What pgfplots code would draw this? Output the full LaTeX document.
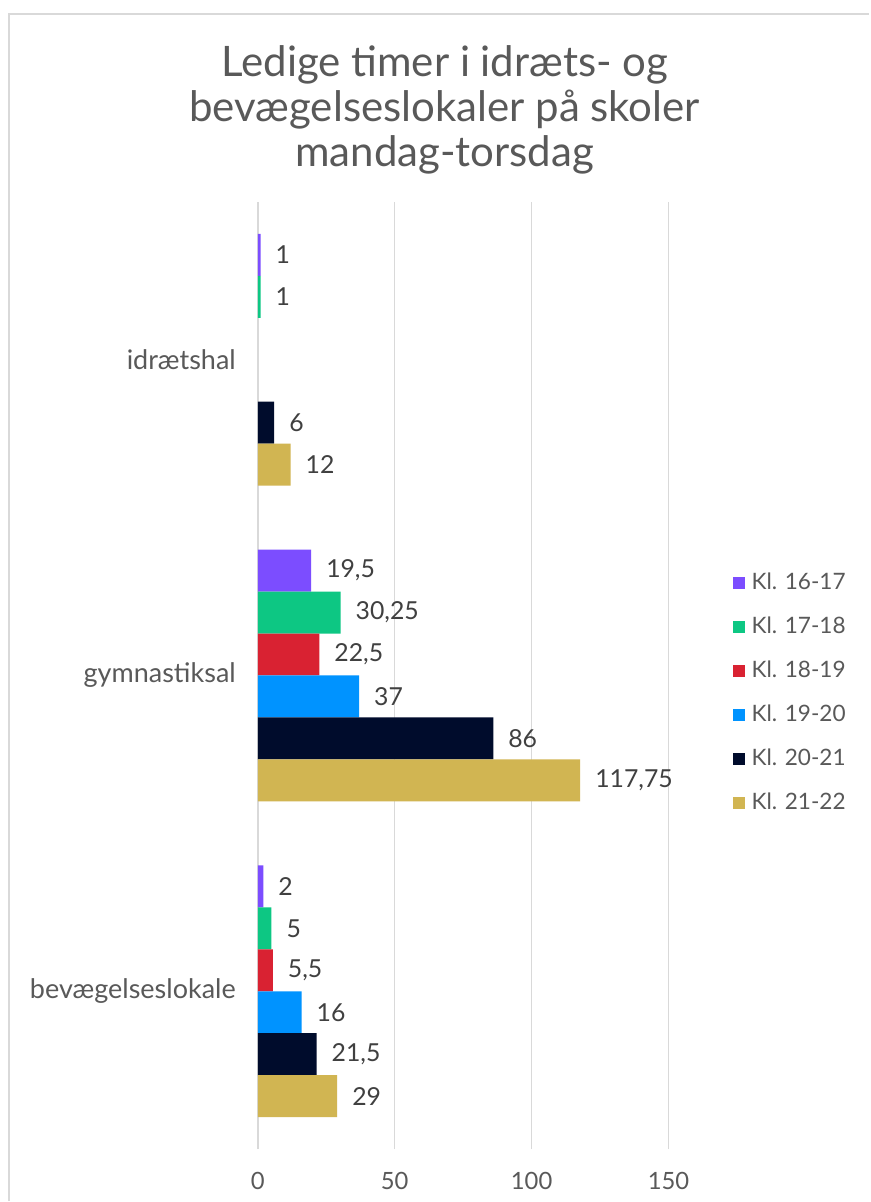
\documentclass[border=0pt]{standalone}
\usepackage{pgfplots}
\pgfplotsset{compat=1.18}
\usepackage{fontspec}
\setmainfont{Lato}
\definecolor{cA}{HTML}{7C4DFF}
\definecolor{cB}{HTML}{0DC783}
\definecolor{cC}{HTML}{D92232}
\definecolor{cD}{HTML}{0093FF}
\definecolor{cE}{HTML}{000C2C}
\definecolor{cF}{HTML}{D1B552}
\definecolor{txt}{HTML}{595959}
\definecolor{lbl}{HTML}{404040}
\definecolor{grd}{HTML}{D9D9D9}
\begin{document}
\begin{tikzpicture}[x=1pt,y=1pt]
\fill[white] (0,0) rectangle (435,601);
\draw[grd, line width=0.9pt] (4.5,0) -- (4.5,594) -- (435,594);
\node[align=center, text=txt, font=\fontsize{21}{22.5}\selectfont] at (222.5,546) {Ledige timer i idræts- og\\bevægelseslokaler på skoler\\mandag-torsdag};
\begin{axis}[
  at={(129pt,26pt)}, anchor=south west,
  scale only axis, width=205.5pt, height=474pt,
  xbar=0pt, bar width=21pt,
  xmin=0, xmax=150,
  ymin=-0.5, ymax=2.5,
  ytick={0,1,2}, yticklabels={bevægelseslokale,gymnastiksal,idrætshal},
  xtick={0,50,100,150},
  axis line style={draw=none},
  major tick length=0pt,
  xmajorgrids, grid style={grd, line width=0.75pt},
  /pgf/number format/assume math mode=true,
  /pgf/number format/use comma,
  ticklabel style={text=txt, font=\fontsize{11.9}{13}\selectfont},
  yticklabel style={font=\fontsize{13.5}{15}\selectfont, xshift=-7.5pt},
  xticklabel style={yshift=-8pt},
  nodes near coords,
  nodes near coords style={text=lbl, font=\fontsize{12.4}{14}\selectfont, xshift=4pt},
  every axis plot/.append style={draw=none},
  legend style={draw=none, at={(1.155,0.482)}, anchor=west, font=\fontsize{11.3}{13}\selectfont, text=txt, row sep=8.2pt, inner sep=0pt, cells={anchor=west},
    /tikz/every odd column/.append style={column sep=1.5pt}},
  legend image code/.code={\fill (0pt,-3pt) rectangle (6pt,3pt);},
]
\addplot[fill=cA, bar shift=52.5pt] coordinates {(1,2) (19.5,1) (2,0)};
\addplot[fill=cB, bar shift=31.5pt] coordinates {(1,2) (30.25,1) (5,0)};
\addplot[fill=cC, bar shift=10.5pt] coordinates {(22.5,1) (5.5,0)};
\addplot[fill=cD, bar shift=-10.5pt] coordinates {(37,1) (16,0)};
\addplot[fill=cE, bar shift=-31.5pt] coordinates {(6,2) (86,1) (21.5,0)};
\addplot[fill=cF, bar shift=-52.5pt] coordinates {(12,2) (117.75,1) (29,0)};
\legend{Kl. 16-17,Kl. 17-18,Kl. 18-19,Kl. 19-20,Kl. 20-21,Kl. 21-22}
\end{axis}
\end{tikzpicture}
\end{document}
